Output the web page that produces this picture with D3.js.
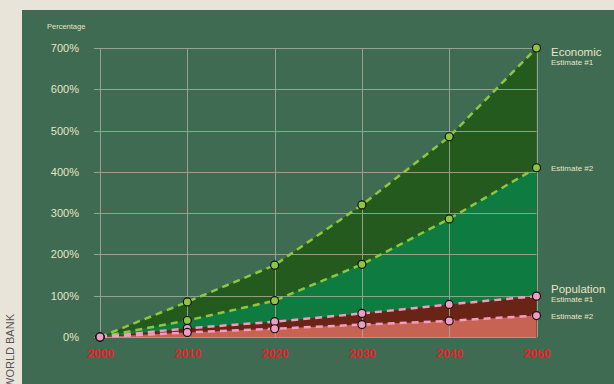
<!DOCTYPE html>
<html>
<head>
<meta charset="utf-8">
<script src="https://cdn.jsdelivr.net/npm/d3@7"></script>
<style>
  html, body { margin: 0; padding: 0; background: #e8e4da; }
  svg { display: block; }
  text { font-family: "Liberation Sans", Arial, sans-serif; }
</style>
</head>
<body>
<svg id="chart" width="614" height="384"></svg>
<script>
// Projected growth, in percent
const years = [2000, 2010, 2020, 2030, 2040, 2050];
const economic1 = [0, 85, 174, 320, 485, 700];
const economic2 = [0, 40, 88, 176, 286, 410];
const population1 = [0, 21, 37, 57, 79, 99];
const population2 = [0, 11, 20, 30, 39, 52];
const yTicks = [0, 100, 200, 300, 400, 500, 600, 700];

const series = [
  { name: "econ1", values: economic1, fill: "#245a1d", line: "#8dc63f" },
  { name: "econ2", values: economic2, fill: "#0e7c40", line: "#8dc63f" },
  { name: "pop1", values: population1, fill: "#6a2415", line: "#f29bc4" },
  { name: "pop2", values: population2, fill: "#c76352", line: "#f29bc4" }
];

const svg = d3.select("#chart");

// Green panel
svg.append("rect").attr("x", 22).attr("y", 10).attr("width", 592).attr("height", 374)
  .attr("fill", "#3e6b51");

// Side label
svg.append("text")
  .attr("transform", "translate(14,314) rotate(-90)")
  .attr("text-anchor", "end")
  .attr("font-size", 11)
  .attr("fill", "#555")
  .text("WORLD BANK");

const x = d3.scaleLinear().domain([2000, 2050]).range([100, 536.5]);
const y = d3.scaleLinear().domain([0, 700]).range([337, 48]);

// Stacked-looking area fills, largest first
const area = d3.area()
  .x((d, i) => x(years[i]))
  .y0(y(0))
  .y1(d => y(d));

series.forEach(s => {
  svg.append("path").datum(s.values).attr("d", area).attr("fill", s.fill);
});

// Grid
const grid = svg.append("g").attr("stroke", "#a3ad98").attr("stroke-width", 1).attr("opacity", 0.85);
yTicks.forEach(t => {
  grid.append("line").attr("x1", 94).attr("x2", x(2050))
    .attr("y1", Math.round(y(t)) + 0.5).attr("y2", Math.round(y(t)) + 0.5);
});
years.forEach(yr => {
  grid.append("line").attr("x1", Math.round(x(yr)) + 0.5).attr("x2", Math.round(x(yr)) + 0.5)
    .attr("y1", y(700)).attr("y2", y(0));
});

// Y axis labels
const yAxis = d3.axisLeft(y).tickValues(yTicks).tickSize(0).tickPadding(0)
  .tickFormat(d => d + "%");
const yg = svg.append("g").attr("transform", "translate(79,0)").call(yAxis);
yg.select(".domain").remove();
yg.selectAll("text").attr("fill", "#e9e4c4").attr("font-size", 11)
  .attr("font-family", "Liberation Sans, Arial, sans-serif");

svg.append("text").attr("x", 47).attr("y", 29).attr("font-size", 7.5)
  .attr("fill", "#e9e4c4").text("Percentage");

// X axis labels
const xAxis = d3.axisBottom(x).tickValues(years).tickSize(0).tickPadding(0)
  .tickFormat(d3.format("d"));
const xg = svg.append("g").attr("transform", "translate(0,349)").call(xAxis);
xg.select(".domain").remove();
xg.selectAll("text").attr("fill", "#e8202a").attr("font-size", 12).attr("font-weight", "bold")
  .attr("font-family", "Liberation Sans, Arial, sans-serif");

// Dashed lines
const line = d3.line().x((d, i) => x(years[i])).y(d => y(d));
series.forEach(s => {
  svg.append("path").datum(s.values).attr("d", line)
    .attr("fill", "none").attr("stroke", s.line).attr("stroke-width", 2.5)
    .attr("stroke-dasharray", "7,5");
});

// Markers
series.forEach(s => {
  svg.append("g").selectAll("circle").data(s.values).join("circle")
    .attr("cx", (d, i) => x(years[i])).attr("cy", d => y(d)).attr("r", 4)
    .attr("fill", s.line).attr("stroke", "#111").attr("stroke-width", 1.2);
});

// End labels
const lab = svg.append("g").attr("fill", "#e9e4c4");
lab.append("text").attr("x", 551).attr("y", y(700) + 8).attr("font-size", 11.5).text("Economic");
lab.append("text").attr("x", 551).attr("y", y(700) + 17).attr("font-size", 8).text("Estimate #1");
lab.append("text").attr("x", 551).attr("y", y(410) + 3).attr("font-size", 8).text("Estimate #2");
lab.append("text").attr("x", 551).attr("y", y(99) - 3).attr("font-size", 11.5).text("Population");
lab.append("text").attr("x", 551).attr("y", y(99) + 6).attr("font-size", 8).text("Estimate #1");
lab.append("text").attr("x", 551).attr("y", y(52) + 3).attr("font-size", 8).text("Estimate #2");
</script>
</body>
</html>
